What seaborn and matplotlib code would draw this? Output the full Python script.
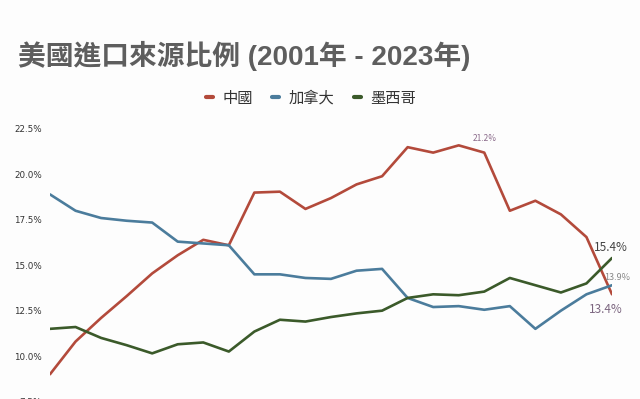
import matplotlib
matplotlib.use("Agg")
import matplotlib.pyplot as plt
import seaborn as sns
import pandas as pd
from matplotlib.lines import Line2D

years = list(range(2001, 2024))
china = [9.0, 10.8, 12.1, 13.3, 14.55, 15.55, 16.4, 16.1, 19.0, 19.05, 18.1, 18.7,
         19.45, 19.9, 21.5, 21.2, 21.6, 21.2, 18.0, 18.55, 17.8, 16.55, 13.4]
canada = [18.9, 18.0, 17.6, 17.45, 17.35, 16.3, 16.2, 16.1, 14.5, 14.5, 14.3, 14.25,
          14.7, 14.8, 13.2, 12.7, 12.75, 12.55, 12.75, 11.5, 12.5, 13.4, 13.9]
mexico = [11.5, 11.6, 11.0, 10.6, 10.15, 10.65, 10.75, 10.25, 11.35, 12.0, 11.9, 12.15,
          12.35, 12.5, 13.2, 13.4, 13.35, 13.55, 14.3, 13.9, 13.5, 14.0, 15.4]
names = ["中國", "加拿大", "墨西哥"]
colors = ["#b34a3b", "#4b7c9c", "#3b5a2a"]
yticks = [7.5, 10.0, 12.5, 15.0, 17.5, 20.0, 22.5]

df = pd.DataFrame({
    "year": years * 3,
    "value": china + canada + mexico,
    "country": [names[0]] * 23 + [names[1]] * 23 + [names[2]] * 23,
})

sns.set_theme(style="white")
plt.rcParams["font.family"] = ["Noto Sans CJK TC", "DejaVu Sans"]

fig = plt.figure(figsize=(6.4, 3.99), dpi=100)
fig.patch.set_facecolor("#fdfdfd")
ax = fig.add_axes([50 / 640, -2.5 / 399, 562 / 640, 272.5 / 399])
ax.set_facecolor("#fdfdfd")

sns.lineplot(data=df, x="year", y="value", hue="country", hue_order=names,
             palette=colors, linewidth=1.9, ax=ax, legend=False)

ax.set_xlim(2001, 2023)
ax.set_ylim(7.5, 22.5)
ax.set_yticks(yticks)
ax.set_yticklabels([f"{t:.1f}%" for t in yticks], fontsize=6.3, color="#333333",
                   family=["DejaVu Sans"])
ax.set_xticks([])
ax.tick_params(axis="y", length=0, pad=6)
for s in ax.spines.values():
    s.set_visible(False)
ax.set_xlabel("")
ax.set_ylabel("")

# annotations
ax.text(2018, 21.95, "21.2%", fontsize=6, color="#8a6a8a", ha="center", va="center")
ax.text(2022.95, 15.95, "15.4%", fontsize=8.5, color="#444444", ha="center", va="center")
ax.text(2023.2, 14.3, "13.9%", fontsize=6.5, color="#888888", ha="center", va="center")
ax.text(2022.75, 12.55, "13.4%", fontsize=8.5, color="#7c6680", ha="center", va="center")

fig.text(18 / 640, 1 - 56 / 399, "美國進口來源比例 (2001年 - 2023年)", fontsize=20,
         fontweight="bold", color="#5e5e5e", ha="left", va="center",
         family=["Liberation Sans", "Noto Sans CJK TC"])

handles = [Line2D([0], [0], color=c, linewidth=3) for c in colors]
fig.legend(handles, names, loc="center", bbox_to_anchor=(311 / 640, 1 - 98 / 399),
           ncol=3, frameon=False, handlelength=0.45, handletextpad=0.6,
           columnspacing=1.3, fontsize=11, labelcolor="#333333")

fig.savefig("out.png", dpi=100, facecolor=fig.get_facecolor())
